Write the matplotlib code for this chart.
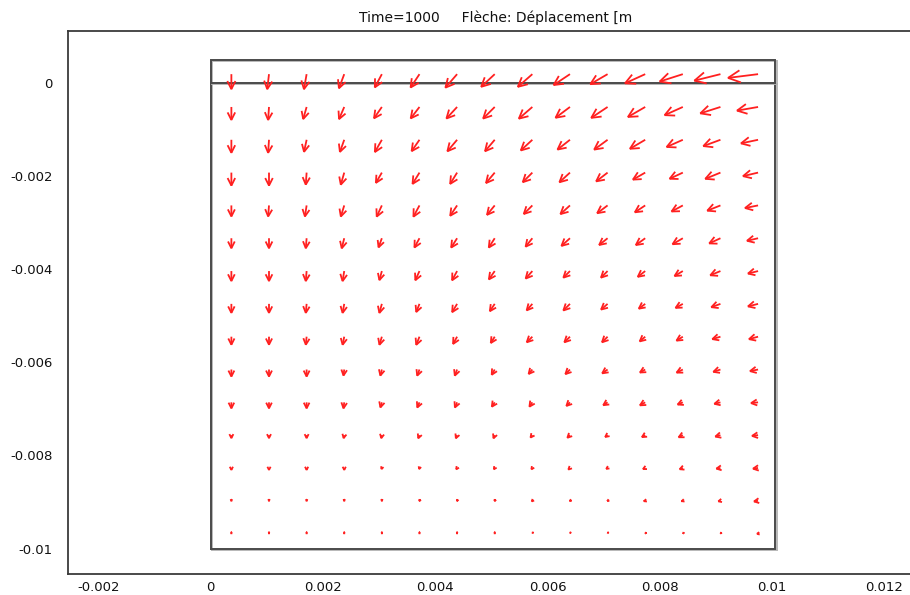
import matplotlib
matplotlib.use("Agg")
import matplotlib.pyplot as plt
import matplotlib.patheffects as pe
from matplotlib.patches import FancyArrowPatch
import numpy as np

# ---------------- data ----------------
title_text = "Time=1000     Flèche: Déplacement [m"
xticks = [-0.002, 0, 0.002, 0.004, 0.006, 0.008, 0.01, 0.012]
xticklabels = ["-0.002", "0", "0.002", "0.004", "0.006", "0.008", "0.01", "0.012"]
yticks = [0, -0.002, -0.004, -0.006, -0.008, -0.01]
yticklabels = ["0", "-0.002", "-0.004", "-0.006", "-0.008", "-0.01"]

# geometry (m)
geom_x = [0.0, 0.01006]
geom_y = [-0.01, 0.0005]
interface_y = 0.0

# displacement arrows: x component (rows top -> bottom, columns left -> right)
ux = [
    [0, -2, -3, -6, -8, -10, -13, -15, -16, -18, -19, -22, -25, -28, -32],
    [0, -1, -4, -6, -9, -10, -12, -13, -15, -16, -18, -19, -20, -22, -23],
    [0, -1, -3, -5, -8, -9, -11, -11, -13, -14, -15, -17, -18, -19, -19],
    [0, 0, -1, -4, -7, -8, -8, -10, -11, -12, -13, -14, -15, -17, -17],
    [0, -1, -2, -4, -6, -7, -8, -9, -10, -11, -12, -12, -13, -15, -15],
    [0, 0, -1, -3, -4, -6, -7, -7, -8, -10, -10, -11, -12, -13, -13],
    [0, 0, -1, -2, -3, -5, -6, -7, -8, -8, -8, -9, -10, -12, -12],
    [0, 0, -1, -2, -3, -4, -6, -6, -7, -8, -8, -8, -9, -11, -12],
    [0, 0, -1, -2, -3, -4, -5, -5, -7, -7, -7, -7, -8, -10, -11],
    [0, 0, 0, -1, -2, -3, -3, -4, -5, -6, -7, -7, -8, -9, -10],
    [0, 0, 0, -1, -2, -3, -3, -4, -4, -5, -6, -7, -7, -8, -9],
    [0, 0, 0, -1, -1, -2, -2, -2, -3, -4, -4, -5, -6, -7, -8],
    [0, 0, 0, 0, -1, -1, -2, -2, -2, -3, -3, -4, -5, -6, -7],
    [0, 0, 0, 0, 0, -1, -1, -1, -2, -2, -2, -3, -3, -4, -6],
    [0, 0, 0, 0, 0, 0, 0, 0, -0.5, -0.5, -0.5, -1, -1, -1, -3],
]
# displacement arrows: y component
uy = [
    [-17, -17, -17, -16, -15, -15, -15, -14, -14, -12, -11, -10, -8, -7, -4],
    [-15, -15, -14, -14, -13, -13, -13, -13, -13, -12, -12, -11, -9, -7, -4],
    [-15, -15, -14, -14, -14, -13, -13, -13, -12, -11, -11, -10, -8, -7, -4],
    [-15, -15, -14, -14, -12, -13, -13, -12, -11, -11, -10, -8, -7, -7, -4],
    [-13, -13, -13, -13, -13, -13, -12, -11, -10, -10, -9, -8, -7, -6, -3],
    [-12, -12, -12, -12, -11, -11, -11, -11, -10, -9, -8, -8, -7, -6, -3],
    [-12, -12, -12, -12, -11, -11, -11, -10, -9, -8, -8, -7, -6, -5, -3],
    [-11, -11, -11, -11, -11, -10, -10, -9, -8, -8, -7, -6, -5, -4, -3],
    [-10, -10, -10, -10, -10, -10, -9, -8, -7, -7, -7, -6, -5, -3, -3],
    [-9, -9, -9, -8, -8, -8, -8, -7, -6, -6, -5, -4, -4, -3, -2],
    [-8, -8, -8, -8, -7, -7, -7, -6, -6, -5, -4, -4, -3, -2, -1],
    [-5, -5, -5, -5, -5, -5, -5, -5, -4, -4, -3, -3, -3, -2, -1],
    [-4, -4, -4, -4, -3, -3, -3, -3, -3, -3, -2, -2, -2, -1, -1],
    [-2, -2, -2, -2, -2, -2, -2, -2, -2, -1, -1, -1, -1, -1, -1],
    [-1, -1, -1, -1, -1, -1, -1, -1, -1, -1, -1, -1, -1, -1, -0.5],
]

# ---------------- layout ----------------
W, H, DPI = 910, 595, 100
fig = plt.figure(figsize=(W / DPI, H / DPI), dpi=DPI)
fig.patch.set_facecolor("white")

ax_l, ax_r, ax_t, ax_b = 68, 910, 31, 574
ax = fig.add_axes([ax_l / W, 1 - ax_b / H, (ax_r - ax_l) / W, (ax_b - ax_t) / H])

# pixel <-> data mapping
x0_px, px_per_mm_x = 210.6, 56.15
y0_px, px_per_mm_y = 83.0, 46.55
ax.set_xlim((ax_l - x0_px) / px_per_mm_x * 1e-3, (ax_r - x0_px) / px_per_mm_x * 1e-3)
ax.set_ylim(-(ax_b - y0_px) / px_per_mm_y * 1e-3, -(ax_t - y0_px) / px_per_mm_y * 1e-3)

ax.set_xticks(xticks)
ax.set_xticklabels(xticklabels)
ax.set_yticks(yticks)
ax.set_yticklabels(yticklabels)
ax.tick_params(axis="both", length=0, labelsize=9.5, colors="#111111")
ax.tick_params(axis="y", pad=11)
ax.tick_params(axis="x", pad=5)

for s in ["left", "top", "bottom"]:
    ax.spines[s].set_color("#3a3a3a")
    ax.spines[s].set_linewidth(1.3)
ax.spines["right"].set_visible(False)

# geometry
shadow = [pe.SimpleLineShadow(offset=(1.0, -1.0), shadow_color="#b0b0b0", alpha=0.9), pe.Normal()]
gx = [geom_x[0], geom_x[1], geom_x[1], geom_x[0], geom_x[0]]
gy = [geom_y[0], geom_y[0], geom_y[1], geom_y[1], geom_y[0]]
ax.plot(gx, gy, color="#4a4a4a", lw=1.4, path_effects=shadow, zorder=2, solid_joinstyle="miter")
ax.plot(geom_x, [interface_y, interface_y], color="#4a4a4a", lw=1.4, path_effects=shadow, zorder=2)

# arrows
xs = np.linspace(0.00037, 0.00975, 15)
ys = np.linspace(0.00019, -0.00968, 15)
mx = 1e-3 / px_per_mm_x  # data per pixel (x)
my = 1e-3 / px_per_mm_y  # data per pixel (y)
for r, yv in enumerate(ys):
    for c, xv in enumerate(xs):
        u, v = ux[r][c], uy[r][c]
        L = float(np.hypot(u, v))
        if L < 0.3:
            continue
        hl_px = min(0.8 * L, 3.5 + 0.27 * L)
        hw_px = 0.5 * hl_px
        style = "->,head_length=%.3f,head_width=%.3f" % (hl_px * 0.72, hw_px * 0.72)
        arr = FancyArrowPatch((xv, yv), (xv + u * mx, yv + v * my),
                              arrowstyle=style, mutation_scale=1,
                              color="#ff2020", lw=1.3, shrinkA=0, shrinkB=0,
                              zorder=3, joinstyle="miter", capstyle="butt")
        ax.add_patch(arr)

fig.text(496 / W, 1 - 18 / H, title_text, ha="center", va="center", fontsize=10, color="#111111")

fig.savefig("out.png", dpi=DPI, facecolor="white")
